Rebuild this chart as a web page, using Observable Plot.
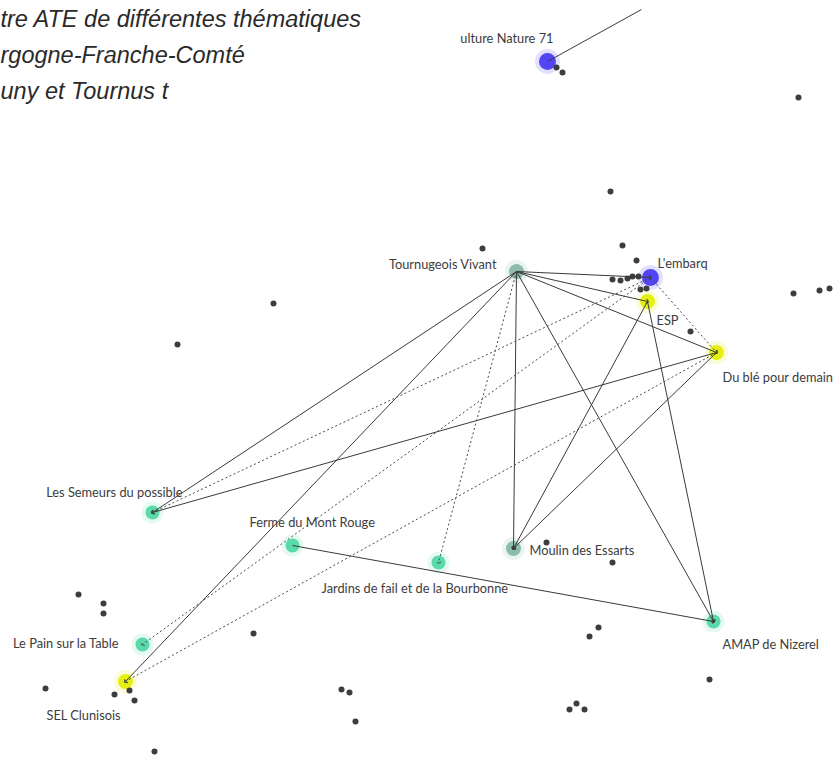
<!DOCTYPE html>
<html><head><meta charset="utf-8">
<script src="https://cdn.jsdelivr.net/npm/d3@7"></script>
<script src="https://cdn.jsdelivr.net/npm/@observablehq/plot@0.6"></script>
<style>
html,body{margin:0;padding:0;background:#fff;overflow:hidden}
#chart svg{display:block}
</style></head><body><div id="chart"></div>
<script>
// ---- DATA (layout coordinates) ----
const titleLines = ["tre ATE de différentes thématiques", "rgogne-Franche-Comté", "uny et Tournus t"];

const nodeNames = ["Culture Nature 71", "Tournugeois Vivant", "L'embarq", "ESP", "Du blé pour demain",
  "Les Semeurs du possible", "Ferme du Mont Rouge", "Jardins de fail et de la Bourbonne",
  "Moulin des Essarts", "AMAP de Nizerel", "Le Pain sur la Table", "SEL Clunisois"];
const nodeLabels = ["ulture Nature 71", "Tournugeois Vivant", "L'embarq", "ESP", "Du blé pour demain",
  "Les Semeurs du possible", "Ferme du Mont Rouge", "Jardins de fail et de la Bourbonne",
  "Moulin des Essarts", "AMAP de Nizerel", "Le Pain sur la Table", "SEL Clunisois"];
const nodeX = [547, 516, 650, 647, 716, 152, 292, 438, 513, 713, 142, 125];
const nodeY = [61, 271, 277, 301, 352, 512, 545, 562, 548, 621, 644, 681];
const nodeGroup = ["bleu", "vert-gris", "bleu", "jaune", "jaune", "vert", "vert", "vert", "vert-gris", "vert", "vert", "jaune"];

const otherX = [556, 562, 798, 610, 482, 622, 636, 612, 620, 627, 632, 638, 640, 646, 690, 793, 819, 829,
  273, 177, 78, 103, 103, 253, 45, 114, 129, 134, 154, 546, 612, 598, 589, 709, 341, 349, 355, 569, 576, 584];
const otherY = [67, 72, 97, 191, 248, 245, 260, 279, 280, 278, 276, 276, 289, 288, 331, 293, 290, 288,
  303, 344, 594, 603, 613, 633, 688, 694, 690, 700, 751, 542, 562, 627, 636, 679, 689, 692, 721, 709, 703, 709];

const edgeFrom = ["Tournugeois Vivant", "Tournugeois Vivant", "Tournugeois Vivant", "Tournugeois Vivant",
  "Tournugeois Vivant", "Tournugeois Vivant", "Tournugeois Vivant", "Du blé pour demain",
  "ESP", "Du blé pour demain", "ESP", "Ferme du Mont Rouge",
  "Tournugeois Vivant", "L'embarq", "L'embarq", "Du blé pour demain", "L'embarq"];
const edgeTo = ["L'embarq", "ESP", "Du blé pour demain", "Les Semeurs du possible",
  "SEL Clunisois", "Moulin des Essarts", "AMAP de Nizerel", "Les Semeurs du possible",
  "Moulin des Essarts", "Moulin des Essarts", "AMAP de Nizerel", "AMAP de Nizerel",
  "Jardins de fail et de la Bourbonne", "Les Semeurs du possible", "Le Pain sur la Table", "SEL Clunisois", "Du blé pour demain"];
const edgeKind = ["plein", "plein", "plein", "plein", "plein", "plein", "plein", "plein",
  "plein", "plein", "plein", "plein", "pointillé", "pointillé", "pointillé", "pointillé", "pointillé"];

// edge leaving the frame (Culture Nature 71 -> node outside the picture)
const outFrom = ["Culture Nature 71"];
const outX = [641];
const outY = [9];

// ---- BUILD ----
const groups = ["vert", "vert-gris", "bleu", "jaune"];
const groupColors = ["#52d8a6", "#86b9a5", "#4a3cf4", "#e4ef06"];
const nodes = nodeNames.map((n, i) => ({name: n, label: nodeLabels[i], x: nodeX[i], y: nodeY[i], group: nodeGroup[i]}));
const byName = new Map(nodes.map(d => [d.name, d]));
const others = otherX.map((x, i) => ({x, y: otherY[i]}));
const edges = edgeFrom.map((f, i) => ({a: byName.get(f), b: byName.get(edgeTo[i]), kind: edgeKind[i]}));
const outEdges = outFrom.map((f, i) => ({a: byName.get(f), b: {x: outX[i], y: outY[i]}}));

// label placement (anchor, dx, dy) — styling
const place = {
  "Culture Nature 71": ["end", 6, -23],
  "Tournugeois Vivant": ["end", -20, -7],
  "L'embarq": ["start", 7, -14],
  "ESP": ["start", 9, 19],
  "Du blé pour demain": ["start", 6, 25],
  "Les Semeurs du possible": ["end", 30, -20],
  "Ferme du Mont Rouge": ["start", -43, -23],
  "Jardins de fail et de la Bourbonne": ["start", -117, 26],
  "Moulin des Essarts": ["start", 16, 2],
  "AMAP de Nizerel": ["start", 9, 23],
  "Le Pain sur la Table": ["end", -24, -1],
  "SEL Clunisois": ["middle", -42, 34]
};
const labels = nodes.map(d => ({text: d.label, anchor: place[d.name][0], x: d.x + place[d.name][1], y: d.y + place[d.name][2]}));
const titles = titleLines.map((t, i) => ({t, i}));

const radius = {"vert": 7, "vert-gris": 7.5, "bleu": 8.5, "jaune": 7.5};
const labelMark = a => Plot.text(labels.filter(d => d.anchor === a), {
  x: "x", y: "y", text: "text", textAnchor: a, fontFamily: "Lato, 'Open Sans', sans-serif",
  fontSize: 12.8, fill: "#3c3c3c"
});

const chart = Plot.plot({
  width: 835, height: 758, margin: 0,
  x: {domain: [0, 835], range: [0, 835], axis: null},
  y: {domain: [0, 758], range: [0, 758], axis: null},
  r: {type: "identity"},
  color: {domain: groups, range: groupColors},
  style: {background: "#fff", overflow: "hidden"},
  marks: [
    // halos
    Plot.dot(nodes, {x: "x", y: "y", r: d => radius[d.group] + 4, fill: "group", fillOpacity: 0.16}),
    Plot.dot(nodes, {x: "x", y: "y", r: d => radius[d.group], fill: "group", fillOpacity: 0.95}),
    Plot.dot(others, {x: "x", y: "y", r: 3, fill: "#3d3d3d"}),
    Plot.link(edges.filter(e => e.kind === "plein"), {
      x1: d => d.a.x, y1: d => d.a.y, x2: d => d.b.x, y2: d => d.b.y,
      stroke: "#3a3a3a", strokeWidth: 1, markerEnd: "arrow"
    }),
    Plot.link(edges.filter(e => e.kind === "pointillé"), {
      x1: d => d.a.x, y1: d => d.a.y, x2: d => d.b.x, y2: d => d.b.y,
      stroke: "#4a4a4a", strokeWidth: 1, strokeDasharray: "2,2.5", markerEnd: "arrow"
    }),
    Plot.link(outEdges, {
      x1: d => d.a.x, y1: d => d.a.y, x2: d => d.b.x, y2: d => d.b.y,
      stroke: "#3a3a3a", strokeWidth: 1
    }),
    labelMark("start"), labelMark("middle"), labelMark("end"),
    Plot.text(titles, {
      x: () => 0, y: d => 19 + d.i * 36, text: "t", textAnchor: "start",
      fontFamily: "'Liberation Sans', Arial, sans-serif", fontStyle: "italic", fontSize: 23.5, fill: "#2a2a2a"
    })
  ]
});
document.getElementById("chart").appendChild(chart);
</script>
</body></html>
